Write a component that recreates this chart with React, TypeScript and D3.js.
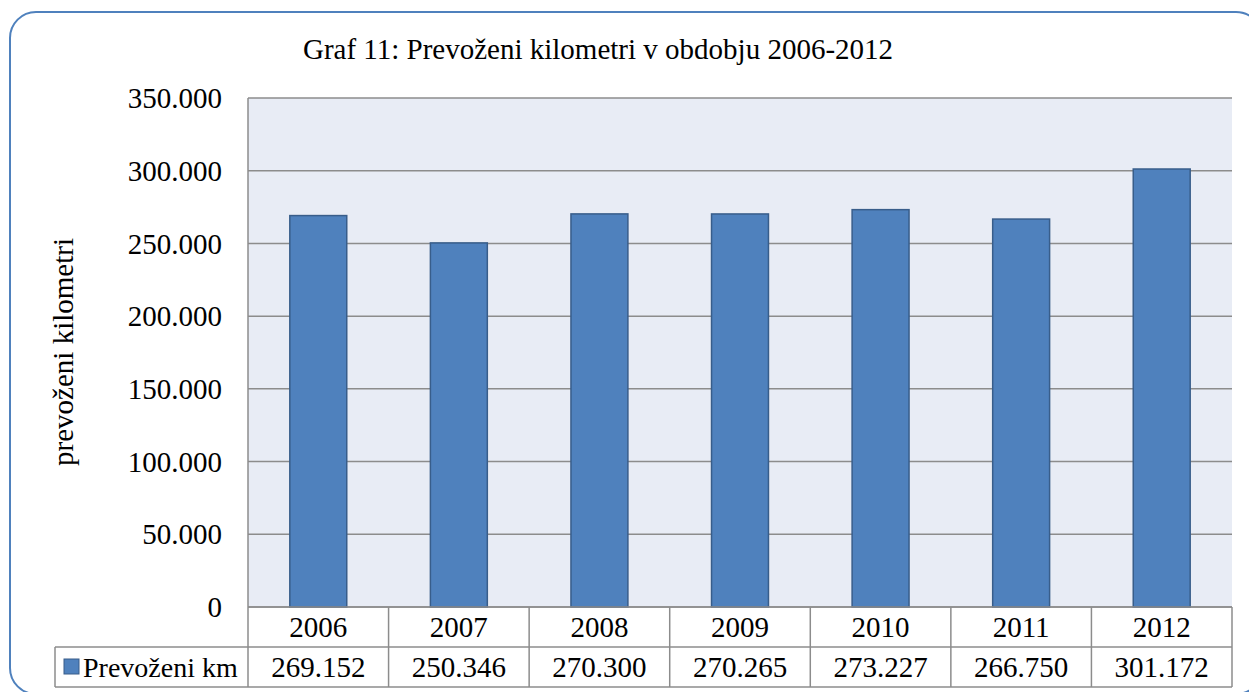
import React from "react";
import * as d3 from "d3";

const years = ["2006", "2007", "2008", "2009", "2010", "2011", "2012"];
const km = [269152, 250346, 270300, 270265, 273227, 266750, 301172];
const yTicks = [0, 50000, 100000, 150000, 200000, 250000, 300000, 350000];
const seriesName = "Prevoženi km";
const title = "Graf 11: Prevoženi kilometri v obdobju 2006-2012";
const yLabel = "prevoženi kilometri";

const W = 1249;
const H = 692;
const font = "'Liberation Serif', 'Times New Roman', serif";
const fs = 29;

const fmt = d3
  .formatLocale({ decimal: ",", thousands: ".", grouping: [3], currency: ["", ""] })
  .format(",d");

const App = () => {
  const plot = { left: 248, right: 1232, top: 98, bottom: 607 };
  const rowH = 40;

  const x = d3.scaleBand().domain(years).range([plot.left, plot.right]);
  const y = d3.scaleLinear().domain([0, 350000]).range([plot.bottom, plot.top]);
  const barW = x.bandwidth() * 0.405;
  const grid = "#8c8c8c";

  return (
    <svg
      width={W}
      height={H}
      style={{ position: "absolute", left: 0, top: 0, display: "block" }}
      fontFamily={font}
    >
      <rect width={W} height={H} fill="#fff" />
      <rect x={10} y={12} width={1252} height={682} rx={26} fill="none" stroke="#4f81bd" strokeWidth={2} />

      <text x={598} y={59} textAnchor="middle" fontSize={fs}>{title}</text>

      <text
        transform={`translate(73,352) rotate(-90)`}
        textAnchor="middle"
        fontSize={fs}
      >
        {yLabel}
      </text>

      <rect
        x={plot.left}
        y={plot.top}
        width={plot.right - plot.left}
        height={plot.bottom - plot.top}
        fill="#e8ecf5"
      />

      {yTicks.map((t) => (
        <g key={t}>
          <line x1={plot.left} x2={plot.right} y1={y(t)} y2={y(t)} stroke={grid} strokeWidth={1.5} />
          <text x={222} y={y(t)} dy="0.35em" textAnchor="end" fontSize={fs}>
            {fmt(t)}
          </text>
        </g>
      ))}

      {years.map((yr, i) => (
        <rect
          key={yr}
          x={(x(yr) as number) + (x.bandwidth() - barW) / 2}
          y={y(km[i])}
          width={barW}
          height={plot.bottom - y(km[i])}
          fill="#4f81bd"
          stroke="#385d8a"
          strokeWidth={1.5}
        />
      ))}

      {/* data table */}
      <g stroke={grid} strokeWidth={1.5}>
        <line x1={plot.left} x2={plot.left} y1={plot.top} y2={plot.bottom + 2 * rowH} />
        <line x1={plot.left} x2={plot.right} y1={plot.bottom} y2={plot.bottom} />
        <line x1={55} x2={plot.right} y1={plot.bottom + rowH} y2={plot.bottom + rowH} />
        <line x1={55} x2={plot.right} y1={plot.bottom + 2 * rowH} y2={plot.bottom + 2 * rowH} />
        <line x1={55} x2={55} y1={plot.bottom + rowH} y2={plot.bottom + 2 * rowH} />
        {years.map((yr) => (
          <line
            key={yr}
            x1={(x(yr) as number) + x.bandwidth()}
            x2={(x(yr) as number) + x.bandwidth()}
            y1={plot.bottom}
            y2={plot.bottom + 2 * rowH}
          />
        ))}
      </g>

      {years.map((yr, i) => (
        <g key={yr} fontSize={fs} textAnchor="middle">
          <text x={(x(yr) as number) + x.bandwidth() / 2} y={plot.bottom + rowH / 2} dy="0.35em">
            {yr}
          </text>
          <text x={(x(yr) as number) + x.bandwidth() / 2} y={plot.bottom + rowH * 1.5} dy="0.35em">
            {fmt(km[i])}
          </text>
        </g>
      ))}

      <rect x={64} y={659} width={15} height={15} fill="#4f81bd" stroke="#385d8a" strokeWidth={1} />
      <text x={83} y={plot.bottom + rowH * 1.5} dy="0.35em" fontSize={28}>{seriesName}</text>
    </svg>
  );
};

export default App;
